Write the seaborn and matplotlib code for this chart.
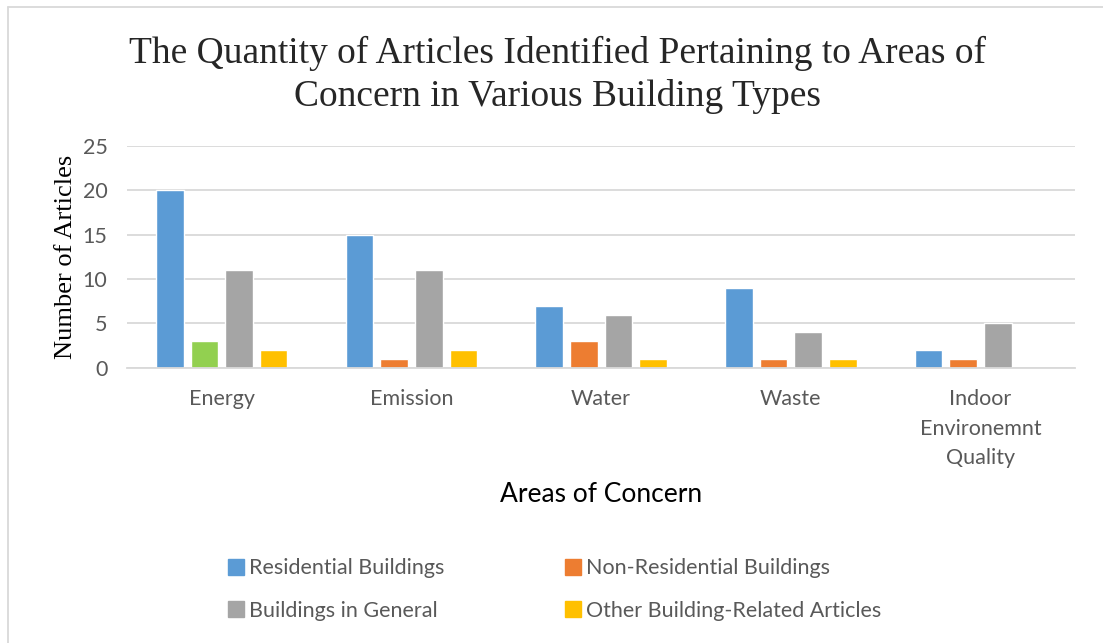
import pandas as pd
import matplotlib
matplotlib.use("Agg")
import matplotlib.pyplot as plt
import seaborn as sns
from matplotlib.lines import Line2D

# data
categories = ["Energy", "Emission", "Water", "Waste", "Indoor\nEnvironemnt\nQuality"]
series = ["Residential Buildings", "Non-Residential Buildings",
          "Buildings in General", "Other Building-Related Articles"]
residential = [20, 15, 7, 9, 2]
non_residential = [3, 1, 3, 1, 1]
general = [11, 11, 6, 4, 5]
other = [2, 2, 1, 1, 0]

colors = ["#5B9BD5", "#ED7D31", "#A5A5A5", "#FFC000"]

rows = []
for s, vals in zip(series, [residential, non_residential, general, other]):
    for c, v in zip(categories, vals):
        rows.append({"area": c, "type": s, "count": v})
df = pd.DataFrame(rows)

sns.set_style("white")
plt.rcParams['font.family'] = ['Lato', 'DejaVu Sans']

fig = plt.figure(figsize=(11.03, 6.43), dpi=100)
ax = fig.add_axes([0.115, 0.428, 0.86, 0.345])

sns.barplot(data=df, x="area", y="count", hue="type", order=categories,
            hue_order=series, palette=colors, width=0.73, gap=0.2,
            saturation=1, ax=ax, legend=False)

# in the original the Energy / Non-Residential bar is green
ax.containers[1][0].set_facecolor("#92D050")

ax.set_ylim(0, 25)
ax.set_yticks(range(0, 26, 5))
ax.grid(axis="y", color="#D9D9D9", linewidth=1.3)
ax.set_axisbelow(True)
for sp in ["top", "right", "left"]:
    ax.spines[sp].set_visible(False)
ax.spines["bottom"].set_color("#D9D9D9")
ax.spines["bottom"].set_linewidth(1.3)
ax.tick_params(axis="both", length=0, labelsize=15.5, colors="#595959")
ax.tick_params(axis="y", pad=14)
ax.tick_params(axis="x", pad=15)
for lab in ax.get_xticklabels():
    lab.set_linespacing(1.62)

ax.set_xlabel("Areas of Concern", fontsize=19, color="black", labelpad=10)
ax.set_ylabel("Number of Articles", fontsize=19, family="Liberation Serif",
              color="black", labelpad=4)

fig.text(0.505, 0.822, "The Quantity of Articles Identified Pertaining to Areas of\n"
         "Concern in Various Building Types", ha="center", va="bottom",
         fontsize=27, family="Liberation Serif", linespacing=1.3)

# legend filled row by row like the original
order = [0, 2, 1, 3]
handles = [Line2D([0], [0], marker="s", linestyle="none", markersize=11,
                  markerfacecolor=colors[i], markeredgecolor=colors[i]) for i in order]
fig.legend(handles, [series[i] for i in order], loc="center",
           bbox_to_anchor=(0.502, 0.083), ncol=2, frameon=False, fontsize=15.5,
           labelcolor="#595959", columnspacing=5.5, handletextpad=0.15,
           labelspacing=1.05, handlelength=0.9)

# chart frame lines
fig.add_artist(Line2D([8 / 1103, 8 / 1103], [0, 1 - 7 / 643], color="#D9D9D9",
                      linewidth=1.3, transform=fig.transFigure))
fig.add_artist(Line2D([8 / 1103, 1], [1 - 7 / 643, 1 - 7 / 643], color="#D9D9D9",
                      linewidth=1.3, transform=fig.transFigure))

fig.savefig("out.png", dpi=100)
